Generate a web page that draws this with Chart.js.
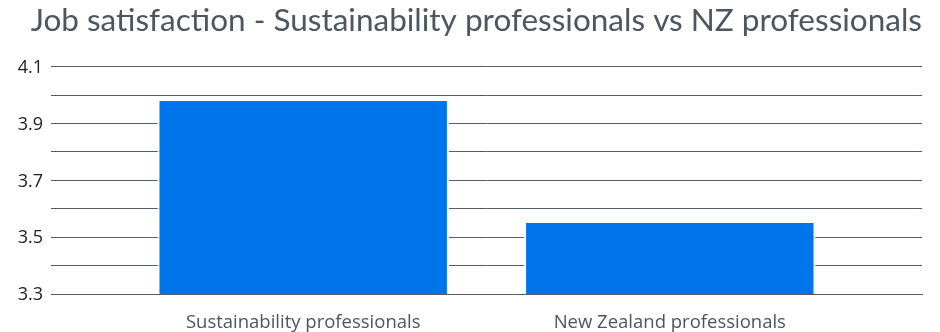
<!DOCTYPE html>
<html>
<head>
<meta charset="utf-8">
<script src="https://cdn.jsdelivr.net/npm/chart.js@4"></script>
<style>
  html, body { margin: 0; padding: 0; background: #fff; }
  #wrap { width: 940px; height: 332px; }
</style>
</head>
<body>
<div id="wrap"><canvas id="chart" width="940" height="332"></canvas></div>
<script>
// Job satisfaction scores
const groups = ['Sustainability professionals', 'New Zealand professionals'];
const scores = [3.98, 3.55];
const yTicks = [3.3, 3.4, 3.5, 3.6, 3.7, 3.8, 3.9, 4.0, 4.1];
const yTickLabels = ['3.3', '', '3.5', '', '3.7', '', '3.9', '', '4.1'];

const TITLE_FONT = 'Lato, sans-serif';
const LABEL_FONT = '"Open Sans", sans-serif';
const GRID = '#555e65';

// bars sit on a linear x axis so the gridlines can run wider than the two groups
const points = scores.map((v, i) => ({ x: i, y: v }));

new Chart(document.getElementById('chart'), {
  type: 'bar',
  data: {
    datasets: [{
      data: points,
      backgroundColor: '#0074eb',
      borderColor: '#ffffff',
      borderWidth: { left: 2, right: 2, top: 0, bottom: 0 },
      borderSkipped: false,
      categoryPercentage: 1,
      barPercentage: 0.795
    }]
  },
  options: {
    responsive: false,
    animation: false,
    layout: { padding: { left: 0, right: 18, top: 0, bottom: 0 } },
    plugins: {
      legend: { display: false },
      tooltip: { enabled: false },
      title: {
        display: true,
        text: 'Job satisfaction - Sustainability professionals vs NZ professionals',
        color: '#4b5660',
        align: 'end',
        font: { family: TITLE_FONT, size: 31.5, weight: 'normal' },
        padding: { top: 2, bottom: 27 }
      }
    },
    scales: {
      x: {
        type: 'linear',
        offset: false,
        min: -0.688,
        max: 1.688,
        afterBuildTicks: s => { s.ticks = groups.map((_, i) => ({ value: i })); },
        afterFit: s => { s.height = 38; },
        grid: { display: false },
        border: { display: true, color: GRID, width: 1, z: 1 },
        ticks: {
          callback: v => groups[v],
          color: '#4b5660',
          font: { family: LABEL_FONT, size: 18.5 },
          padding: 10,
          maxRotation: 0
        }
      },
      y: {
        min: 3.3,
        max: 4.1,
        afterBuildTicks: s => { s.ticks = yTicks.map(v => ({ value: v })); },
        afterFit: s => { s.width = 51; },
        grid: { color: GRID, lineWidth: 1, drawTicks: false },
        border: { display: false },
        ticks: {
          callback: (v, i) => yTickLabels[i],
          color: '#222',
          font: { family: LABEL_FONT, size: 18 },
          padding: 8,
          labelOffset: 1
        }
      }
    }
  }
});
</script>
</body>
</html>
